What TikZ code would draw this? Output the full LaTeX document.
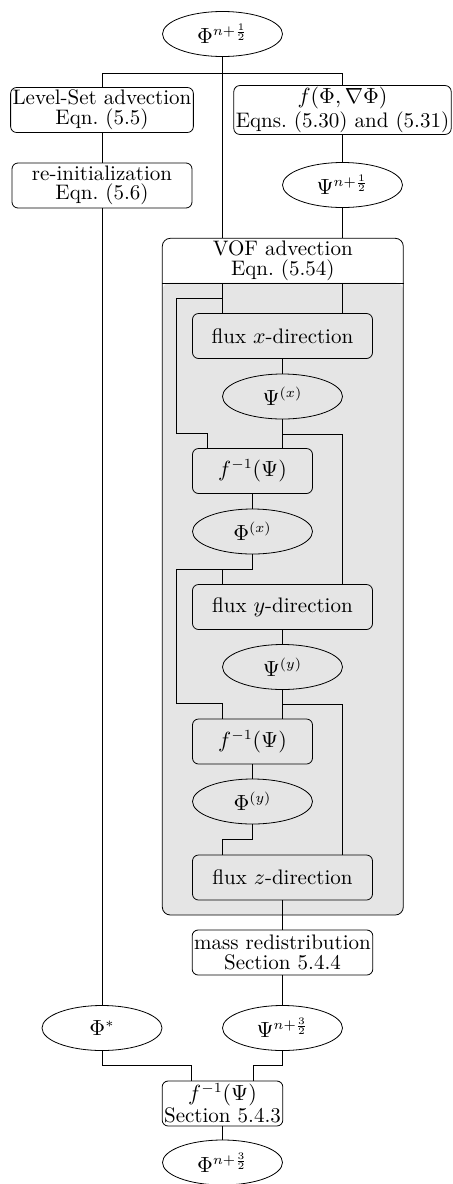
\documentclass[tikz,border=0pt]{standalone}
\usetikzlibrary{shapes.geometric,calc}
\newcommand\myfnt{\fontsize{10.5}{9.8}\selectfont}
\begin{document}
\begin{tikzpicture}[x=0.5pt,y=-0.5pt,
  box/.style={draw, rounded corners=3pt, minimum width=90pt, minimum height=22.5pt,
    inner sep=1pt, align=center, font=\myfnt},
  sbox/.style={box, minimum width=60pt},
  ell/.style={draw, ellipse, minimum width=60pt, minimum height=22.5pt, inner sep=0pt, font=\myfnt},
  conn/.style={draw, line width=0.45pt}]
\useasboundingbox (0,0) rectangle (452,1184);

% VOF container
\node[draw, rounded corners=4pt, minimum width=120.5pt, minimum height=338.35pt, inner sep=0pt,
  path picture={\fill[black!10] ([yshift=-22.2pt]path picture bounding box.north west)
     rectangle (path picture bounding box.south east);}] (vof) at (282.8,576.65) {};
\node[anchor=north, minimum width=120pt, minimum height=22.2pt, inner sep=1pt, align=center,
  font=\myfnt] (vofh) at (vof.north) {VOF advection\\Eqn.~(5.54)};
\draw (vofh.south -| vof.west) -- (vofh.south -| vof.east);

% nodes
\node[ell] (top) at (222.5,34) {$\Phi^{n+\frac{1}{2}}$};
\node[box] (ls) at (102,110) {Level-Set advection\\Eqn.~(5.5)};
\node[box] (fbox) at (342.5,110) {$f(\Phi,\nabla\Phi)$\\Eqns.~(5.30) and (5.31)};
\node[box] (reinit) at (102,185.5) {re-initialization\\Eqn.~(5.6)};
\node[ell] (psihalf) at (342.5,185) {$\Psi^{n+\frac{1}{2}}$};

\node[box] (fluxx) at (282.5,336) {flux $x$-direction};
\node[ell] (psix) at (282.5,396.5) {$\Psi^{(x)}$};
\node[sbox] (finv1) at (252.5,471) {$f^{-1}(\Psi)$};
\node[ell] (phix) at (252.5,531.5) {$\Phi^{(x)}$};
\node[box] (fluxy) at (282.5,607) {flux $y$-direction};
\node[ell] (psiy) at (282.5,667) {$\Psi^{(y)}$};
\node[sbox] (finv2) at (252.5,741.5) {$f^{-1}(\Psi)$};
\node[ell] (phiy) at (252.5,801.5) {$\Phi^{(y)}$};
\node[box] (fluxz) at (282.5,877.5) {flux $z$-direction};

\node[box] (mass) at (282.5,952.5) {mass redistribution\\Section 5.4.4};
\node[ell] (psi32) at (282.5,1028) {$\Psi^{n+\frac{3}{2}}$};
\node[ell] (phistar) at (102,1028) {$\Phi^{*}$};
\node[sbox] (finv3) at (222.5,1103.5) {$f^{-1}(\Psi)$\\Section 5.4.3};
\node[ell] (final) at (222.5,1162.5) {$\Phi^{n+\frac{3}{2}}$};

\coordinate (L) at ([xshift=7.5pt]vof.west);

% connectors (outside)
\draw[conn] (top.south) -- ++(0,16.3) coordinate (j0);
\draw[conn] (j0) -| (ls.north);
\draw[conn] (j0) -| (fbox.north);
\draw[conn] (j0) -- (j0 |- vof.north);
\draw[conn] (ls) -- (reinit);
\draw[conn] (fbox) -- (psihalf);
\draw[conn] (psihalf.south) -- (psihalf.south |- vof.north);

% connectors (inside VOF)
\draw[conn] (j0 |- vofh.south) -- (j0 |- fluxx.north);
\draw[conn] (psihalf.south |- vofh.south) -- (psihalf.south |- fluxx.north);
\draw[conn] ($(j0 |- fluxx.north)+(0,-15)$) -| ($(L |- finv1.north)+(0,-15)$) -| ($(finv1.north west)+(15,0)$);
\draw[conn] (fluxx) -- (psix);
\draw[conn] (psix.south) -- (psix.south |- finv1.north);
\draw[conn] ($(psix.south)+(0,15)$) -| ($(fluxy.north east)+(-30,0)$);
\draw[conn] (finv1) -- (phix);
\draw[conn] (phix.south) -- ++(0,15) -| ($(fluxy.north west)+(30,0)$);
\draw[conn] ($(phix.south)+(0,15)$) -| ($(L |- finv2.north)+(0,-15)$) -| ($(finv2.north west)+(30,0)$);
\draw[conn] (fluxy) -- (psiy);
\draw[conn] (psiy.south) -- (psiy.south |- finv2.north);
\draw[conn] ($(psiy.south)+(0,15)$) -| ($(fluxz.north east)+(-30,0)$);
\draw[conn] (finv2) -- (phiy);
\draw[conn] (phiy.south) -- ++(0,15) -| ($(fluxz.north west)+(30,0)$);

% connectors (bottom)
\draw[conn] (fluxz) -- (mass);
\draw[conn] (mass) -- (psi32);
\draw[conn] (reinit) -- (phistar);
\draw[conn] (phistar.south) -- ++(0,15) -| ($(finv3.north west)+(30,0)$);
\draw[conn] (psi32.south) -- ++(0,15) -| ($(finv3.north east)+(-30,0)$);
\draw[conn] (finv3) -- (final);
\end{tikzpicture}
\end{document}
